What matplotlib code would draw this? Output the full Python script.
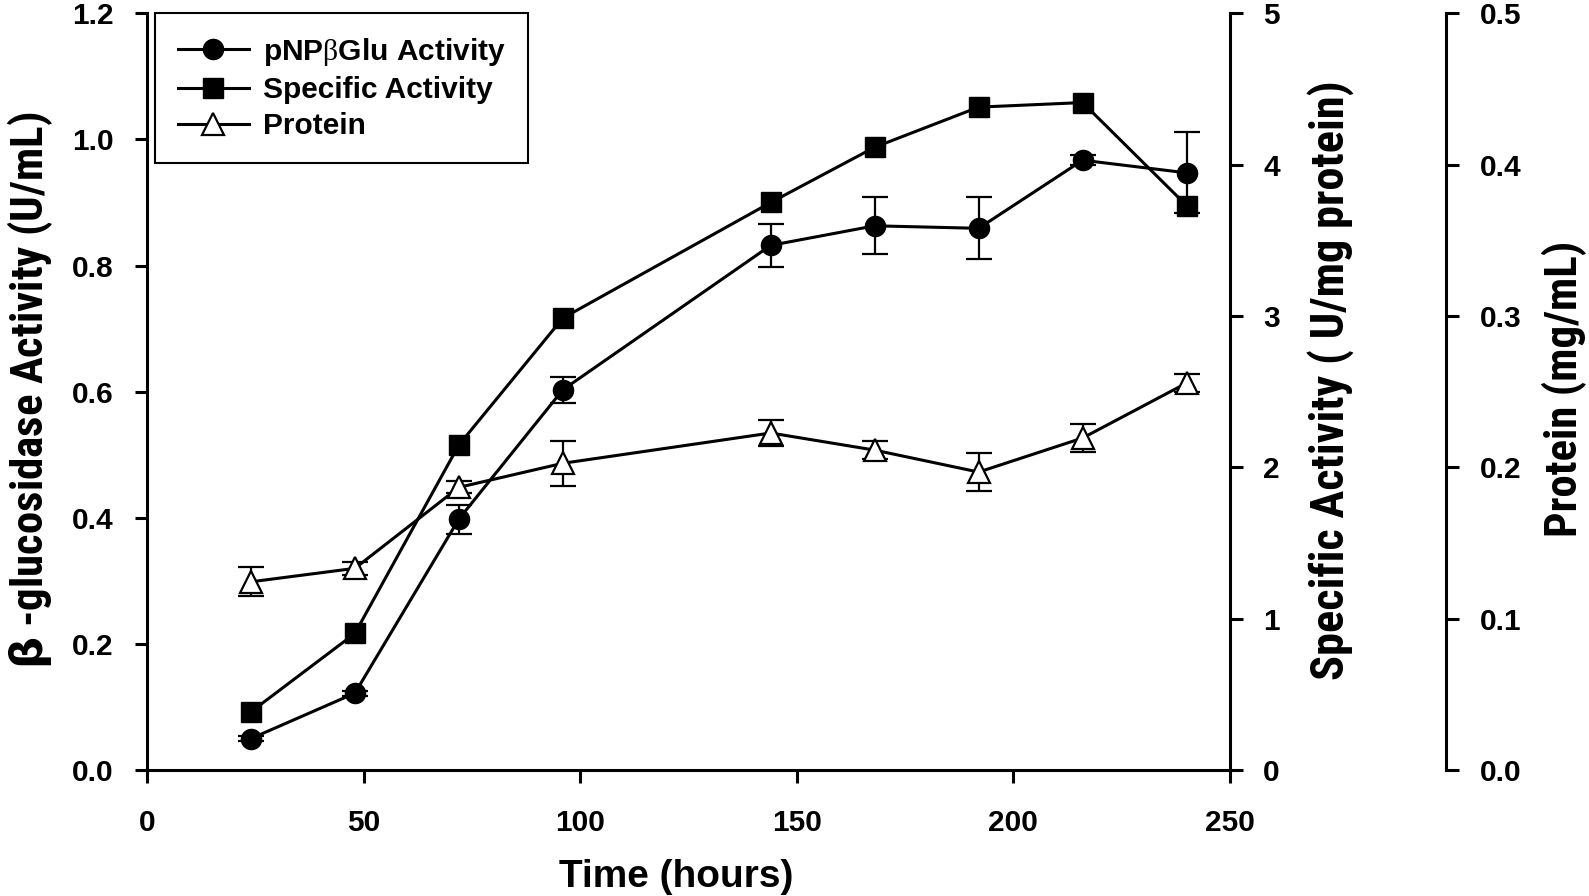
import matplotlib
matplotlib.use("Agg")
from matplotlib import pyplot as plt
from matplotlib import font_manager as fm

# data
hours = [24, 48, 72, 96, 144, 168, 192, 216, 240]
pnp_activity = [0.050, 0.122, 0.398, 0.603, 0.832, 0.863, 0.859, 0.967, 0.947]
pnp_err = [0.004, 0.004, 0.023, 0.021, 0.034, 0.045, 0.049, 0.008, 0.064]
specific_activity = [0.385, 0.903, 2.148, 2.986, 3.75, 4.115, 4.38, 4.41, 3.73]
protein = [0.1244, 0.1333, 0.1868, 0.2027, 0.2227, 0.2114, 0.1969, 0.2194, 0.2557]
protein_err = [0.0096, 0.0044, 0.004, 0.0149, 0.0084, 0.006, 0.0124, 0.009, 0.006]

left_ticks = [0.0, 0.2, 0.4, 0.6, 0.8, 1.0, 1.2]
sa_ticks = [0, 1, 2, 3, 4, 5]
prot_ticks = [0.0, 0.1, 0.2, 0.3, 0.4, 0.5]
x_ticks = [0, 50, 100, 150, 200, 250]
legend_labels = [r"pNP$\mathrm{\beta}$Glu Activity", "Specific Activity", "Protein"]

# the rotated axis titles are set in a narrow bold face; use one if it is there
narrow_file = None
for key in ("LiberationSansNarrow-Bold", "RobotoCondensed-Bold", "Roboto_Condensed-Bold"):
    for f in fm.fontManager.ttflist:
        if key.lower() in f.fname.replace(" ", "").lower():
            narrow_file = f.fname
            break
    if narrow_file:
        break
if narrow_file:
    title_font = fm.FontProperties(fname=narrow_file, size=32.3)
    sa_font = fm.FontProperties(fname=narrow_file, size=33.4)
else:
    title_font = fm.FontProperties(family="Liberation Sans", weight="bold", size=27)
    sa_font = fm.FontProperties(family="Liberation Sans", weight="bold", size=28)

plt.rcParams["font.family"] = ["Liberation Sans", "DejaVu Sans"]
plt.rcParams["font.weight"] = "bold"
plt.rcParams["mathtext.fontset"] = "custom"
plt.rcParams["mathtext.rm"] = "Liberation Serif:weight=normal"

lw = 2.2
fig = plt.figure(figsize=(15.89, 8.96), dpi=100)
ax = fig.add_axes([0.0925, 0.1405, 0.6815, 0.8447])
ax2 = ax.twinx()
ax3 = ax.twinx()

l1 = ax.errorbar(hours, pnp_activity, yerr=pnp_err, color="black", lw=lw, marker="o", ms=14.5,
                 elinewidth=1.6, capsize=9.5, capthick=1.6)
l2, = ax2.plot(hours, specific_activity, color="black", lw=lw, marker="s", ms=14.5)
l3 = ax3.errorbar(hours, protein, yerr=protein_err, color="black", lw=lw, marker="^", ms=15.5,
                  mfc="white", mec="black", mew=1.6, elinewidth=1.6, capsize=9.5, capthick=1.6)

ax.set_xlim(0, 250)
ax.set_ylim(0, 1.2)
ax2.set_ylim(0, 5)
ax3.set_ylim(0, 0.5)
ax.set_xticks(x_ticks)
ax.set_yticks(left_ticks)
ax.set_yticklabels([f"{v:.1f}" for v in left_ticks])
ax2.set_yticks(sa_ticks)
ax3.set_yticks(prot_ticks)
ax3.set_yticklabels([f"{v:.1f}" for v in prot_ticks])

ax.spines["top"].set_visible(False)
ax.spines["right"].set_visible(False)
for a in (ax2, ax3):
    for s in ("top", "left", "bottom"):
        a.spines[s].set_visible(False)
ax3.spines["right"].set_position(("axes", 1.2))
for a, sides in ((ax, ("left", "bottom")), (ax2, ("right",)), (ax3, ("right",))):
    for s in sides:
        a.spines[s].set_linewidth(lw)
    a.tick_params(direction="out", length=9, width=lw, labelsize=21.5, pad=15)
ax.tick_params(axis="x", pad=19)

ax.set_xlabel("Time (hours)", fontsize=28, fontweight="bold")
ax.xaxis.set_label_coords(0.489, -0.117)
ax.set_ylabel(r"$\mathrm{\beta}$ -glucosidase Activity (U/mL)", fontproperties=title_font)
ax.yaxis.set_label_coords(-0.085, 0.502)
ax2.set_ylabel("Specific Activity ( U/mg protein)", fontproperties=sa_font)
ax2.yaxis.set_label_coords(1.071, 0.515)
ax3.set_ylabel("Protein (mg/mL)", fontproperties=title_font)
ax3.yaxis.set_label_coords(1.288, 0.504)

leg = ax3.legend([l1[0], l2, l3[0]], legend_labels, loc="upper left",
                 bbox_to_anchor=(0.0075, 1.0), fancybox=False, edgecolor="black",
                 fontsize=21.5, handlelength=2.4, handletextpad=0.45, borderpad=0.75,
                 labelspacing=0.28, borderaxespad=0, framealpha=1)
leg.get_frame().set_linewidth(1.5)
for t in leg.get_texts():
    t.set_fontweight("bold")

fig.savefig("out.png", dpi=100)
